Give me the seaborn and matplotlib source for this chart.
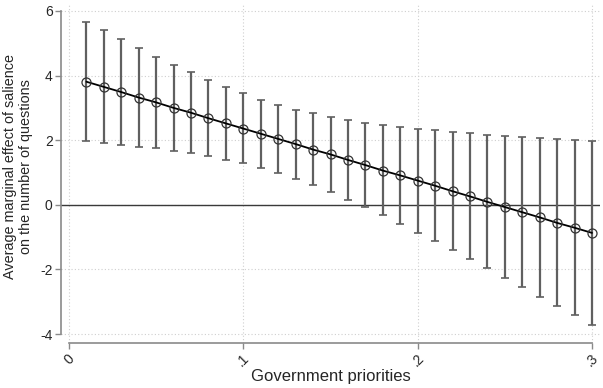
import matplotlib
matplotlib.use("Agg")
import matplotlib.pyplot as plt
import seaborn as sns
import pandas as pd
import numpy as np

x_vals = [0.01, 0.02, 0.03, 0.04, 0.05, 0.06, 0.07, 0.08, 0.09, 0.10,
          0.11, 0.12, 0.13, 0.14, 0.15, 0.16, 0.17, 0.18, 0.19, 0.20,
          0.21, 0.22, 0.23, 0.24, 0.25, 0.26, 0.27, 0.28, 0.29, 0.30]
estimate = [3.81, 3.65, 3.49, 3.32, 3.17, 3.00, 2.85, 2.68, 2.52, 2.36,
            2.20, 2.04, 1.88, 1.71, 1.56, 1.39, 1.23, 1.06, 0.91, 0.75,
            0.59, 0.42, 0.26, 0.09, -0.07, -0.23, -0.39, -0.56, -0.71, -0.87]
upper = [5.67, 5.40, 5.12, 4.85, 4.58, 4.34, 4.10, 3.86, 3.64, 3.45,
         3.26, 3.10, 2.95, 2.83, 2.72, 2.63, 2.54, 2.48, 2.41, 2.36,
         2.31, 2.25, 2.21, 2.17, 2.14, 2.11, 2.07, 2.05, 2.02, 1.98]
lower = [1.96, 1.91, 1.86, 1.80, 1.75, 1.68, 1.60, 1.52, 1.40, 1.28,
         1.15, 0.98, 0.80, 0.61, 0.39, 0.15, -0.08, -0.33, -0.59, -0.86,
         -1.12, -1.40, -1.69, -1.97, -2.26, -2.55, -2.84, -3.13, -3.41, -3.72]
x_ticks = [0, 0.1, 0.2, 0.3]
x_ticklabels = ["0", ".1", ".2", ".3"]
y_ticks = [-4, -2, 0, 2, 4, 6]
x_label = "Government priorities"
y_label = "Average marginal effect of salience\non the number of questions"

sns.set_theme(style="white")
plt.rcParams["font.family"] = ["Liberation Sans", "DejaVu Sans"]

df = pd.DataFrame({"x": x_vals, "est": estimate, "lo": lower, "hi": upper})

fig = plt.figure(figsize=(6.03, 3.88), dpi=100)
ax = fig.add_axes([61 / 603, 1 - 343 / 388, 539 / 603, 340 / 388])

# grid
for yt in y_ticks:
    ax.axhline(yt, color="#cfcfcf", lw=0.8, ls=(0, (1, 2)), zorder=0)
for xt in x_ticks:
    ax.axvline(xt, color="#cfcfcf", lw=0.8, ls=(0, (1, 2)), zorder=0)

ax.axhline(0, color="#3a3a3a", lw=1.0, zorder=1)

yerr = np.vstack([df["est"] - df["lo"], df["hi"] - df["est"]])
ax.errorbar(df["x"], df["est"], yerr=yerr, fmt="none", ecolor="#606060",
            elinewidth=1.6, capsize=3, capthick=1.2, zorder=2)
sns.lineplot(data=df, x="x", y="est", ax=ax, color="black", lw=1.3,
             marker="o", markersize=6.5, markerfacecolor="none",
             markeredgecolor="#333333", markeredgewidth=0.9, zorder=3)

px_x = 0.3 / 523
px_y = 1 / 32.3
ax.set_xlim(-8 * px_x, 0.3 + 8 * px_x)
ax.set_ylim(-4 - 9 * px_y, 6 + 8 * px_y)

for s in ["top", "right"]:
    ax.spines[s].set_visible(False)
for s in ["left", "bottom"]:
    ax.spines[s].set_color("#8a8a8a")
    ax.spines[s].set_linewidth(1.2)
ax.spines["left"].set_bounds(-4, 6)
ax.spines["bottom"].set_bounds(0, 0.3)

ax.set_xticks(x_ticks)
ax.set_xticklabels(x_ticklabels, rotation=45, fontsize=10)
ax.set_yticks(y_ticks)
ax.set_yticklabels([str(v) for v in y_ticks], fontsize=10)
ax.tick_params(axis="both", direction="out", length=4, width=1.0,
               color="#8a8a8a", left=True, bottom=True, pad=2)

ax.set_xlabel(x_label, fontsize=12)
ax.xaxis.set_label_coords(0.5, (343 - 369) / 340)
ax.set_ylabel(y_label, fontsize=10.4, linespacing=1.2)
ax.yaxis.set_label_coords((33 - 61) / 539, (343 - 167) / 340)

fig.savefig("out.png", dpi=100)
